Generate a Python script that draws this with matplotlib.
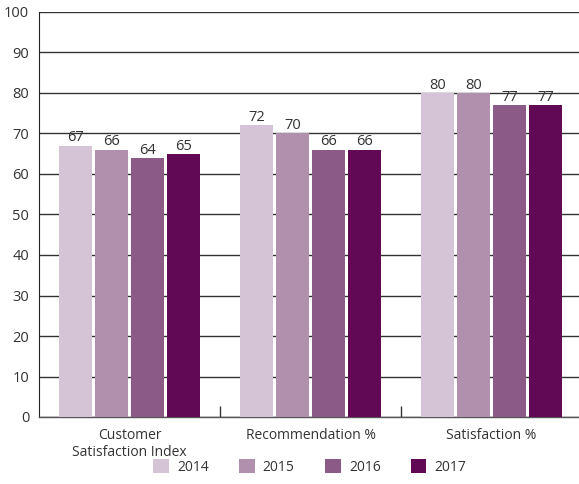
import matplotlib
matplotlib.use("Agg")
import matplotlib.pyplot as plt
import numpy as np
from matplotlib.patches import Patch

plt.rcParams['font.family'] = ['Open Sans', 'DejaVu Sans']

categories = ["Customer\nSatisfaction Index", "Recommendation %", "Satisfaction %"]
years = ["2014", "2015", "2016", "2017"]
values_2014 = [67, 72, 80]
values_2015 = [66, 70, 80]
values_2016 = [64, 66, 77]
values_2017 = [65, 66, 77]
series = [values_2014, values_2015, values_2016, values_2017]
colors = ["#D5C3D6", "#B190AE", "#8B5A87", "#620955"]

fig = plt.figure(figsize=(5.79, 4.84), dpi=100)
ax = fig.add_axes([39 / 579, (484 - 417) / 484, 543 / 579, 405 / 484])

x = np.arange(len(categories))
width = 0.182
step = 0.199
offsets = (np.arange(len(years)) - 1.5) * step

for i, (vals, c) in enumerate(zip(series, colors)):
    bars = ax.bar(x + offsets[i], vals, width=width, color=c, zorder=3)
    for b, v in zip(bars, vals):
        ax.text(b.get_x() + b.get_width() / 2, v + 0.05, str(v),
                ha="center", va="bottom", fontsize=10.5, color="#333333", zorder=4)

ax.set_xlim(-0.5, 2.5)
ax.set_ylim(0, 100)
ax.set_yticks(np.arange(0, 101, 10))
ax.yaxis.grid(True, color="#333333", linewidth=1.0, zorder=1)
ax.set_axisbelow(True)

for s in ["top", "right"]:
    ax.spines[s].set_visible(False)
ax.spines["left"].set_color("#222222")
ax.spines["bottom"].set_color("#555555")
ax.spines["bottom"].set_linewidth(1.0)

ax.tick_params(axis="y", length=0, labelsize=10.5, labelcolor="#333333", pad=7)
ax.set_xticks(x)
ax.set_xticklabels(categories, fontsize=10, color="#333333", linespacing=1.2)
ax.tick_params(axis="x", length=0, pad=8)

# separators between category groups
ax.set_xticks([0.5, 1.5], minor=True)
ax.tick_params(axis="x", which="minor", direction="in", length=8, width=1, color="#333333")

handles = [Patch(facecolor=c, edgecolor="none") for c in colors]
fig.legend(handles, years, loc="center", bbox_to_anchor=(310 / 579, 1 - 467 / 484),
           ncol=4, frameon=False, fontsize=10, handlelength=1.1, handleheight=1.1,
           columnspacing=2.2, handletextpad=0.6, labelcolor="#333333")

fig.savefig("out.png", dpi=100)
